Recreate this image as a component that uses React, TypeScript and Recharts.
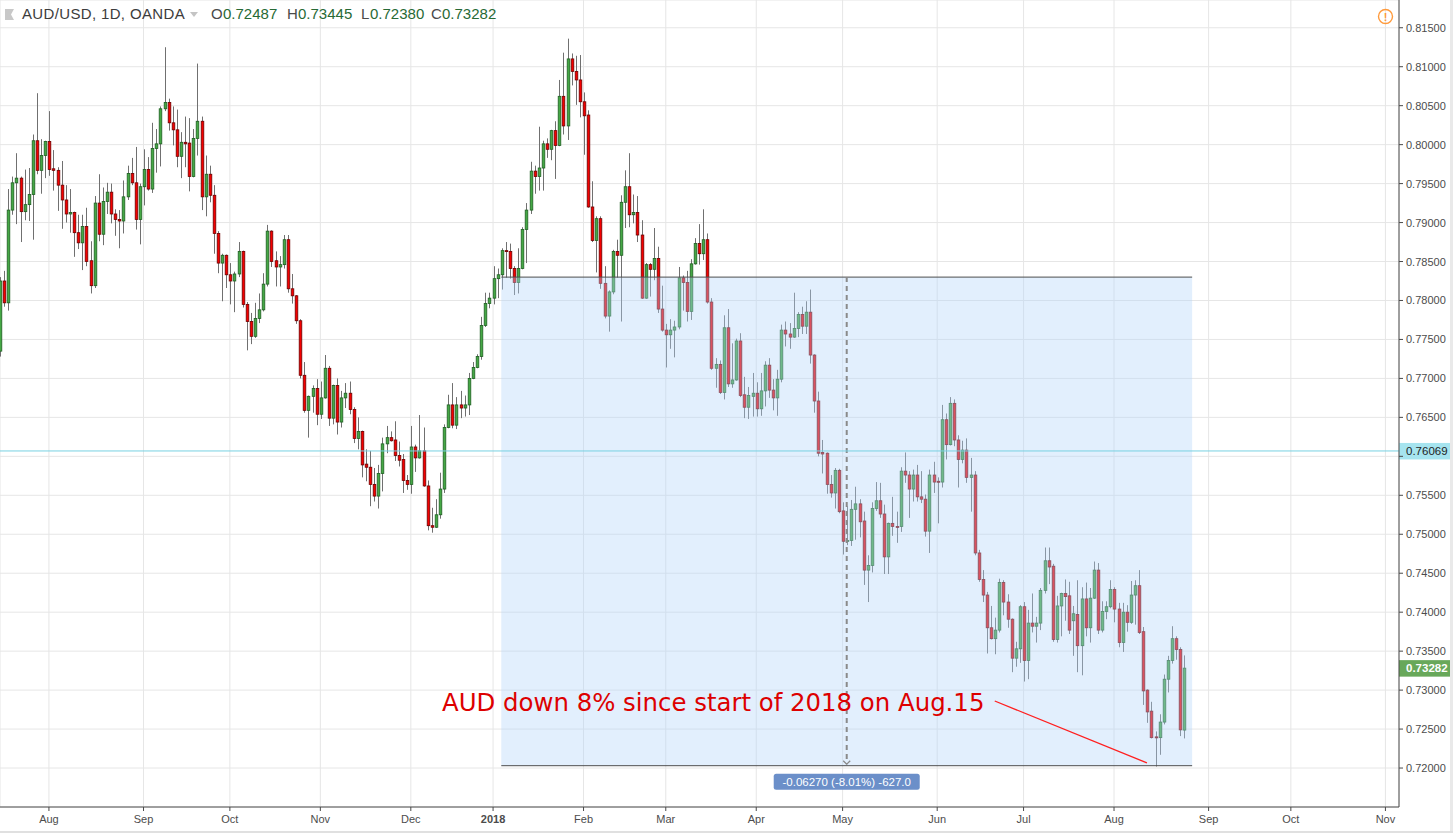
import { ComposedChart, Bar, XAxis, YAxis, CartesianGrid, ReferenceArea, ReferenceLine, ReferenceDot } from "recharts";

// [open, high, low, close] per trading day
type Ohlc = [number, number, number, number];

const jul2017: Ohlc[] = [
	[0.7735, 0.783, 0.7728, 0.7825], [0.7825, 0.7838, 0.7792, 0.7797], [0.7797, 0.7943, 0.7787, 0.7916],
	[0.7916, 0.7959, 0.791, 0.7951], [0.7951, 0.7989, 0.7898, 0.7957], [0.7957, 0.7959, 0.7875, 0.7914],
	[0.7914, 0.7968, 0.7903, 0.7923], [0.7923, 0.797, 0.7902, 0.7936], [0.7936, 0.8013, 0.7878, 0.8005],
	[0.8005, 0.8066, 0.7962, 0.7967], [0.7967, 0.8007, 0.7937, 0.7986], [0.7986, 0.8005, 0.7957, 0.8004],
];
const aug2017: Ohlc[] = [
	[0.8004, 0.8043, 0.796, 0.7968], [0.7969, 0.7993, 0.7941, 0.7967], [0.7967, 0.7971, 0.7915, 0.7948],
	[0.7948, 0.7979, 0.7892, 0.7929], [0.7929, 0.7948, 0.79, 0.7911], [0.7911, 0.7943, 0.7887, 0.7913],
	[0.7913, 0.7914, 0.7856, 0.7887], [0.7887, 0.791, 0.7866, 0.7874], [0.7874, 0.791, 0.7839, 0.7895],
	[0.7895, 0.7919, 0.7844, 0.785], [0.7851, 0.7876, 0.7809, 0.7819], [0.7819, 0.7934, 0.7816, 0.7925],
	[0.7925, 0.7962, 0.7876, 0.7885], [0.7885, 0.7945, 0.7871, 0.7927], [0.7927, 0.7951, 0.7911, 0.7939],
	[0.7939, 0.795, 0.7899, 0.7911], [0.7911, 0.7917, 0.7883, 0.7904], [0.7904, 0.7916, 0.7867, 0.7902],
	[0.7902, 0.7954, 0.7886, 0.7933], [0.7933, 0.7973, 0.7929, 0.7963], [0.7963, 0.7983, 0.7948, 0.7951],
	[0.7951, 0.7997, 0.7891, 0.7904], [0.7904, 0.795, 0.7872, 0.7946],
];
const sep2017: Ohlc[] = [
	[0.7946, 0.7994, 0.7922, 0.7968], [0.7968, 0.7984, 0.7941, 0.7943], [0.7943, 0.8028, 0.7938, 0.7995],
	[0.7995, 0.802, 0.7964, 0.8001], [0.8001, 0.8049, 0.7972, 0.8046], [0.8046, 0.8125, 0.8043, 0.8054],
	[0.8054, 0.8059, 0.8018, 0.8028], [0.8028, 0.8049, 0.7999, 0.8019], [0.8019, 0.8045, 0.7971, 0.7985],
	[0.7985, 0.8016, 0.7957, 0.8003], [0.8003, 0.8036, 0.7971, 0.8001], [0.8002, 0.8034, 0.794, 0.7959],
	[0.7959, 0.802, 0.7958, 0.8008], [0.8008, 0.8104, 0.7986, 0.803], [0.803, 0.8036, 0.7916, 0.7933],
	[0.7933, 0.7986, 0.7908, 0.7962], [0.7962, 0.7973, 0.7926, 0.7935], [0.7935, 0.7948, 0.786, 0.7886],
	[0.7886, 0.7889, 0.7835, 0.7848], [0.7848, 0.786, 0.7799, 0.7858], [0.7858, 0.7859, 0.7816, 0.7833],
];
const oct2017: Ohlc[] = [
	[0.7833, 0.7848, 0.7795, 0.7825], [0.7825, 0.7837, 0.7785, 0.7834], [0.7834, 0.7875, 0.783, 0.7863],
	[0.7863, 0.7864, 0.7791, 0.7795], [0.7795, 0.7798, 0.7736, 0.7773], [0.7773, 0.7784, 0.7744, 0.7754],
	[0.7754, 0.7797, 0.7752, 0.7777], [0.7777, 0.7809, 0.7771, 0.7788], [0.7788, 0.7835, 0.7786, 0.7821],
	[0.7821, 0.7897, 0.7818, 0.7889], [0.7889, 0.789, 0.7843, 0.785], [0.7851, 0.7863, 0.7818, 0.7843],
	[0.7843, 0.7857, 0.7818, 0.7846], [0.7846, 0.7884, 0.7841, 0.7878], [0.7878, 0.7884, 0.781, 0.7815],
	[0.7815, 0.7834, 0.7796, 0.7806], [0.7806, 0.7807, 0.777, 0.7774], [0.7774, 0.7776, 0.77, 0.7704],
	[0.7704, 0.7721, 0.7656, 0.7659], [0.7659, 0.7678, 0.7624, 0.7677], [0.7677, 0.7691, 0.7656, 0.7687],
	[0.7687, 0.7699, 0.764, 0.7654],
];
const nov2017: Ohlc[] = [
	[0.7654, 0.7696, 0.7648, 0.7675], [0.7675, 0.773, 0.7674, 0.7713], [0.7713, 0.7716, 0.7639, 0.7649],
	[0.7649, 0.7692, 0.7641, 0.7691], [0.7691, 0.77, 0.7628, 0.7644], [0.7644, 0.7684, 0.7637, 0.7675],
	[0.7675, 0.7694, 0.7662, 0.7681], [0.7681, 0.7696, 0.7654, 0.766], [0.766, 0.7663, 0.7617, 0.7623],
	[0.7623, 0.765, 0.7609, 0.7632], [0.7632, 0.7633, 0.7573, 0.7589], [0.759, 0.7609, 0.7568, 0.7586],
	[0.7586, 0.7607, 0.7536, 0.7564], [0.7564, 0.7585, 0.7542, 0.7549], [0.7549, 0.7589, 0.7533, 0.7578],
	[0.7578, 0.7624, 0.7555, 0.7616], [0.7616, 0.7639, 0.7604, 0.7624], [0.7624, 0.7632, 0.7619, 0.762],
	[0.7621, 0.7645, 0.7594, 0.7601], [0.7601, 0.7619, 0.7587, 0.7595], [0.7596, 0.7603, 0.7553, 0.7569],
	[0.7569, 0.7576, 0.7557, 0.7564],
];
const dec2017: Ohlc[] = [
	[0.7564, 0.7639, 0.7552, 0.7612], [0.7612, 0.7615, 0.758, 0.7598], [0.7598, 0.7653, 0.7597, 0.7607],
	[0.7607, 0.7637, 0.7561, 0.7562], [0.7562, 0.7569, 0.7505, 0.7511], [0.7511, 0.7534, 0.7502, 0.7509],
	[0.7509, 0.7545, 0.7508, 0.7525], [0.7525, 0.7579, 0.752, 0.7558], [0.7558, 0.7641, 0.7553, 0.7637],
	[0.7637, 0.7679, 0.7636, 0.7666], [0.7666, 0.7694, 0.7636, 0.764], [0.764, 0.7676, 0.7635, 0.7666],
	[0.7666, 0.7684, 0.7649, 0.7662], [0.7662, 0.7678, 0.7651, 0.7666], [0.7666, 0.7707, 0.7653, 0.77],
	[0.77, 0.7721, 0.7699, 0.7714], [0.7714, 0.7731, 0.7713, 0.7728], [0.7728, 0.7779, 0.7724, 0.7768],
	[0.7768, 0.781, 0.7766, 0.7796], [0.7796, 0.781, 0.779, 0.7803],
];
const jan2018: Ohlc[] = [
	[0.7803, 0.7844, 0.7795, 0.7828], [0.7828, 0.7841, 0.7803, 0.7833], [0.7833, 0.7867, 0.7814, 0.7864],
	[0.7864, 0.7875, 0.7829, 0.7863], [0.7863, 0.7873, 0.7828, 0.7841], [0.7841, 0.7844, 0.7807, 0.7823],
	[0.7823, 0.7867, 0.7809, 0.7841], [0.7841, 0.7894, 0.784, 0.7891], [0.7891, 0.7925, 0.7848, 0.7916],
	[0.7916, 0.7978, 0.7911, 0.7966], [0.7966, 0.7973, 0.7937, 0.7959], [0.7959, 0.8023, 0.7941, 0.797],
	[0.797, 0.8005, 0.7941, 0.8001], [0.8001, 0.8008, 0.7983, 0.7994], [0.7994, 0.8019, 0.798, 0.8018],
	[0.8018, 0.803, 0.7956, 0.7999], [0.7999, 0.8083, 0.7998, 0.8062], [0.8062, 0.8118, 0.8013, 0.8024],
	[0.8024, 0.8136, 0.8006, 0.811], [0.811, 0.8117, 0.8076, 0.8094], [0.8094, 0.8114, 0.8051, 0.8083],
	[0.8083, 0.8115, 0.8035, 0.8055],
];
const feb2018: Ohlc[] = [
	[0.8055, 0.8067, 0.7987, 0.8037], [0.8038, 0.8044, 0.7919, 0.792], [0.792, 0.7953, 0.7875, 0.7877],
	[0.7877, 0.7908, 0.7836, 0.7905], [0.7905, 0.7908, 0.7815, 0.7822], [0.7822, 0.7844, 0.7777, 0.778],
	[0.778, 0.7813, 0.776, 0.7811], [0.7811, 0.7865, 0.7808, 0.7863], [0.7863, 0.7878, 0.7829, 0.7858],
	[0.7858, 0.7935, 0.7773, 0.7926], [0.7926, 0.7967, 0.7893, 0.7946], [0.7946, 0.7989, 0.7894, 0.791],
	[0.791, 0.7936, 0.7899, 0.7913], [0.7913, 0.7934, 0.7875, 0.7884], [0.7884, 0.7903, 0.7802, 0.7803],
	[0.7803, 0.7848, 0.7802, 0.7846], [0.7846, 0.7848, 0.7805, 0.784], [0.784, 0.7893, 0.7826, 0.7854],
	[0.7854, 0.7869, 0.7784, 0.7789], [0.7789, 0.7819, 0.776, 0.7762],
];
const mar2018: Ohlc[] = [
	[0.7762, 0.777, 0.7714, 0.7756], [0.7756, 0.7776, 0.7738, 0.7762], [0.7762, 0.7774, 0.7727, 0.7766],
	[0.7766, 0.7843, 0.7763, 0.7829], [0.7829, 0.7832, 0.7787, 0.7823], [0.7823, 0.7838, 0.7773, 0.7786],
	[0.7786, 0.7853, 0.7775, 0.7847], [0.7847, 0.788, 0.7846, 0.7873], [0.7873, 0.7898, 0.7846, 0.786],
	[0.786, 0.7917, 0.7852, 0.7878], [0.7878, 0.7886, 0.7796, 0.7798], [0.7798, 0.7803, 0.7711, 0.7713],
	[0.7713, 0.7726, 0.7688, 0.7718], [0.7718, 0.7723, 0.768, 0.7682], [0.7682, 0.7781, 0.7673, 0.7765],
	[0.7765, 0.7789, 0.7689, 0.7693], [0.7693, 0.7745, 0.7688, 0.7698], [0.7698, 0.7751, 0.7697, 0.7748],
	[0.7748, 0.7758, 0.7676, 0.7678], [0.7679, 0.7702, 0.7649, 0.7663], [0.7663, 0.7689, 0.7648, 0.7678],
	[0.7677, 0.7707, 0.7651, 0.7681],
];
const apr2018: Ohlc[] = [
	[0.7681, 0.7695, 0.7651, 0.7661], [0.7661, 0.7707, 0.7652, 0.7684], [0.7684, 0.7722, 0.7664, 0.7717],
	[0.7717, 0.7726, 0.7675, 0.7685], [0.7685, 0.7699, 0.7659, 0.7675], [0.7675, 0.7711, 0.7652, 0.7699],
	[0.7699, 0.7769, 0.7695, 0.7762], [0.7762, 0.7773, 0.7741, 0.7757], [0.7757, 0.7771, 0.7738, 0.7753],
	[0.7753, 0.781, 0.7752, 0.7764], [0.7764, 0.7785, 0.7753, 0.7782], [0.7782, 0.7792, 0.7757, 0.7767],
	[0.7767, 0.7799, 0.7757, 0.7785], [0.7785, 0.7814, 0.7719, 0.773], [0.773, 0.7731, 0.7656, 0.7671],
	[0.7671, 0.7683, 0.76, 0.7604], [0.7605, 0.7621, 0.7578, 0.7603], [0.7604, 0.7605, 0.7552, 0.7564],
	[0.7564, 0.7576, 0.7547, 0.7553], [0.7553, 0.7585, 0.7533, 0.7582], [0.7582, 0.7584, 0.7527, 0.7529],
];
const may2018: Ohlc[] = [
	[0.753, 0.7541, 0.7474, 0.7491], [0.7491, 0.7536, 0.7486, 0.7492], [0.7492, 0.7544, 0.7485, 0.7532],
	[0.7532, 0.7561, 0.7493, 0.7539], [0.7539, 0.7545, 0.7496, 0.7516], [0.7517, 0.7529, 0.7435, 0.7454],
	[0.7454, 0.7473, 0.7413, 0.746], [0.746, 0.7541, 0.7451, 0.7533], [0.7533, 0.7567, 0.753, 0.7543],
	[0.7543, 0.7566, 0.7521, 0.7526], [0.7526, 0.7538, 0.7449, 0.7471], [0.7471, 0.7515, 0.7449, 0.7514],
	[0.7514, 0.7548, 0.7498, 0.751], [0.751, 0.7529, 0.7489, 0.7509], [0.751, 0.7586, 0.7503, 0.7581],
	[0.7581, 0.7605, 0.7566, 0.7576], [0.7576, 0.7581, 0.7521, 0.7558], [0.7558, 0.7583, 0.7542, 0.7576],
	[0.7576, 0.7589, 0.7542, 0.7548], [0.7548, 0.7581, 0.754, 0.7545], [0.7545, 0.7551, 0.7497, 0.7504],
	[0.7504, 0.7583, 0.7476, 0.7576], [0.7576, 0.7593, 0.7553, 0.7567],
];
const jun2018: Ohlc[] = [
	[0.7568, 0.7573, 0.7514, 0.7567], [0.7567, 0.7666, 0.756, 0.7647], [0.7647, 0.7655, 0.7596, 0.7615],
	[0.7615, 0.7676, 0.7614, 0.7668], [0.7668, 0.7673, 0.7613, 0.7621], [0.7621, 0.7627, 0.756, 0.7596],
	[0.7596, 0.762, 0.7591, 0.7608], [0.7608, 0.7623, 0.7566, 0.7573], [0.7573, 0.7598, 0.7529, 0.7576],
	[0.7576, 0.7581, 0.7473, 0.7476], [0.7476, 0.748, 0.7439, 0.7442], [0.7442, 0.7454, 0.7413, 0.7422],
	[0.7422, 0.7426, 0.7347, 0.738], [0.738, 0.7408, 0.7365, 0.7366], [0.7366, 0.7393, 0.7346, 0.7377],
	[0.7377, 0.7443, 0.7374, 0.7438], [0.7438, 0.7441, 0.7396, 0.7413], [0.7413, 0.7423, 0.738, 0.7391],
	[0.7391, 0.7392, 0.7323, 0.7341], [0.7341, 0.7362, 0.733, 0.7353], [0.7353, 0.7409, 0.7335, 0.7407],
];
const jul2018: Ohlc[] = [
	[0.7407, 0.7413, 0.7311, 0.7338], [0.7338, 0.7403, 0.7314, 0.7386], [0.7386, 0.7424, 0.7374, 0.7382],
	[0.7382, 0.7394, 0.7361, 0.7386], [0.7386, 0.7431, 0.7377, 0.7428], [0.7428, 0.7483, 0.7424, 0.7466],
	[0.7466, 0.7483, 0.7436, 0.7458], [0.7459, 0.7462, 0.7362, 0.7365], [0.7365, 0.7421, 0.7361, 0.7408],
	[0.7408, 0.7425, 0.7369, 0.7424], [0.7424, 0.7442, 0.7389, 0.742], [0.7421, 0.7439, 0.7372, 0.7377],
	[0.7389, 0.7408, 0.7344, 0.7398], [0.7397, 0.7441, 0.7323, 0.7357], [0.7357, 0.7432, 0.7319, 0.7417],
	[0.7417, 0.7438, 0.7369, 0.738], [0.738, 0.7431, 0.7361, 0.7418], [0.7418, 0.7465, 0.7417, 0.7454],
	[0.7454, 0.7463, 0.7372, 0.7377], [0.7377, 0.7414, 0.7374, 0.7401], [0.7401, 0.7414, 0.7391, 0.7407],
	[0.7407, 0.7441, 0.7405, 0.7429],
];
const aug2018: Ohlc[] = [
	[0.7429, 0.7432, 0.7387, 0.7404], [0.7404, 0.7412, 0.7355, 0.7361], [0.7361, 0.7412, 0.7349, 0.74],
	[0.74, 0.7409, 0.7375, 0.7387], [0.7387, 0.744, 0.7385, 0.7422], [0.7422, 0.7441, 0.7384, 0.7434],
	[0.7434, 0.7454, 0.7372, 0.7374], [0.7375, 0.7381, 0.7281, 0.7299], [0.73, 0.7301, 0.7258, 0.7272],
	[0.7273, 0.7285, 0.7238, 0.7239], [0.724, 0.7247, 0.7202, 0.7239], [0.7239, 0.7269, 0.7217, 0.7259],
	[0.7259, 0.732, 0.7256, 0.7314], [0.7314, 0.7344, 0.7297, 0.7338], [0.7338, 0.7382, 0.7334, 0.7366],
	[0.7366, 0.7369, 0.7339, 0.7352], [0.7352, 0.7355, 0.7241, 0.7249], [0.72487, 0.73445, 0.7238, 0.73282],
];

const firstDay = "2017-07-14";
const lastAxisDay = "2018-11-30";
const holidays = ["2017-12-25", "2018-01-01"];
const monthNames = ["Jan", "Feb", "Mar", "Apr", "May", "Jun", "Jul", "Aug", "Sep", "Oct", "Nov", "Dec"];
const priceTicks = [
	0.72, 0.725, 0.73, 0.735, 0.74, 0.745, 0.75, 0.755, 0.76, 0.765,
	0.77, 0.775, 0.78, 0.785, 0.79, 0.795, 0.8, 0.805, 0.81, 0.815,
];

// price range tool and markers
const rangeStart = "2018-01-04";
const rangeEnd = "2018-08-28";
const rangeTop = 0.783;
const rangeBottom = 0.7203;
const rangeLabel = "-0.06270 (-8.01%) -627.0";
const hLinePrice = 0.76069;
const lastPrice = 0.73282;
const noteText = "AUD down 8% since start of 2018 on Aug.15";
const noteAt = { day: "2018-06-18", price: 0.72732 };
const arrowFrom = { day: "2018-06-21", price: 0.7286 };
const arrowTo = { day: "2018-08-13", price: 0.72065 };

function buildTradingDays(): string[] {
	const out: string[] = [];
	const d = new Date(firstDay + "T00:00:00Z");
	const end = new Date(lastAxisDay + "T00:00:00Z");
	while (d <= end) {
		const wd = d.getUTCDay();
		const iso = d.toISOString().slice(0, 10);
		if (wd !== 0 && wd !== 6 && !holidays.includes(iso)) out.push(iso);
		d.setUTCDate(d.getUTCDate() + 1);
	}
	return out;
}

const days = buildTradingDays();
const dayIndex = (iso: string) => days.indexOf(iso);

const monthTicks: number[] = [];
const tickText: Record<number, string> = {};
days.forEach((iso, i) => {
	if (i === 0 || iso.slice(0, 7) === days[i - 1].slice(0, 7)) return;
	const m = Number(iso.slice(5, 7));
	monthTicks.push(i);
	tickText[i] = m === 1 ? iso.slice(0, 4) : monthNames[m - 1];
});

const candles = [
	...jul2017, ...aug2017, ...sep2017, ...oct2017, ...nov2017, ...dec2017, ...jan2018,
	...feb2018, ...mar2018, ...apr2018, ...may2018, ...jun2018, ...jul2018, ...aug2018,
].map(([open, high, low, close], i) => ({ i, date: days[i], open, high, low, close }));

const FONT = "'Liberation Sans', Arial, sans-serif";
const W = 1453;
const H = 833;

function Candle(props: any) {
	const { x, y, width, height, payload } = props;
	if (!payload || x == null) return null;
	const { open, high, low, close } = payload;
	const top = Math.min(y, y + height);
	const h = Math.abs(height);
	const span = high - low || 1e-9;
	const py = (v: number) => top + ((high - v) / span) * h;
	const c = Math.round(x + width / 2);
	const up = close >= open;
	const bTop = py(Math.max(open, close));
	const bH = Math.max(py(Math.min(open, close)) - bTop, 1);
	return (
		<g>
			<line x1={c + 0.5} x2={c + 0.5} y1={top} y2={top + h} stroke="#707070" strokeWidth={1} />
			<rect
				x={c - 0.8}
				y={bTop}
				width={2.6}
				height={bH}
				fill={up ? "#45a845" : "#f40000"}
				stroke={up ? "#1f5f22" : "#6e0000"}
				strokeWidth={0.8}
			/>
		</g>
	);
}

function MonthTick(props: any) {
	const { x, y, payload } = props;
	const label = tickText[payload.value] ?? "";
	const isYear = /^\d{4}$/.test(label);
	return (
		<text x={x} y={y} dy={10} textAnchor="middle" fill="#4c4c4c" fontSize={11} fontFamily={FONT} fontWeight={isYear ? 700 : 400}>
			{label}
		</text>
	);
}

// the price badges cover the scale labels they sit on
const badgePrices = [hLinePrice, lastPrice];

function PriceTick(props: any) {
	const { x, y, payload } = props;
	const v = payload.value as number;
	if (badgePrices.some((p) => Math.abs(p - v) < 0.0012)) return null;
	return (
		<text x={x} y={y} dy={4} textAnchor="start" fill="#4c4c4c" fontSize={11} fontFamily={FONT}>
			{v.toFixed(5)}
		</text>
	);
}

function priceBadge(text: string, bg: string, fg: string, bold: boolean) {
	return (props: any) => {
		const vb = props.viewBox || {};
		const x = (vb.x ?? 0) + (vb.width ?? 0);
		const y = vb.y ?? 0;
		return (
			<g>
				<rect x={x} y={y - 8} width={51} height={16.5} fill={bg} />
				<text x={x + 7} y={y + 4} fill={fg} fontSize={11.5} fontFamily={FONT} fontWeight={bold ? 700 : 400}>
					{text}
				</text>
			</g>
		);
	};
}

function RangeFoot(props: any) {
	const { cx, cy } = props;
	if (cx == null) return null;
	return (
		<g>
			<path d={`M${cx - 3.5},${cy - 5} L${cx},${cy - 1.5} L${cx + 3.5},${cy - 5}`} fill="none" stroke="#8a8a8a" strokeWidth={1.3} />
			<rect x={cx - 73} y={cy + 8} width={146} height={16} rx={2.5} fill="#6b8fc9" />
			<text x={cx} y={cy + 20} textAnchor="middle" fill="#ffffff" fontSize={11.5} fontFamily={FONT}>
				{rangeLabel}
			</text>
		</g>
	);
}

function NoteText(props: any) {
	const { cx, cy } = props;
	if (cx == null) return null;
	return (
		<text x={cx + 2} y={cy} textAnchor="end" fill="#dd0000" fontSize={24.4} fontFamily="'DejaVu Sans', Verdana, sans-serif">
			{noteText}
		</text>
	);
}

function Header() {
	const span = (left: number, text: string, color: string) => (
		<span style={{ position: "absolute", left, top: 0, color, whiteSpace: "pre" }}>{text}</span>
	);
	return (
		<div style={{ position: "absolute", left: 0, top: 5, height: 18, width: 520, fontFamily: FONT, fontSize: 15, lineHeight: "18px" }}>
			<svg style={{ position: "absolute", left: 5, top: 4 }} width={9} height={11}>
				<path d="M0,0 L9,0 L6,5.5 L9,11 L0,11 Z" fill="#c8c8c8" />
			</svg>
			<span style={{ position: "absolute", left: 22, top: 0, color: "#3c3c3c", whiteSpace: "pre", letterSpacing: 0.35 }}>
				AUD/USD, 1D, OANDA
			</span>
			<svg style={{ position: "absolute", left: 190, top: 7 }} width={8} height={5}>
				<path d="M0,0 L8,0 L4,5 Z" fill="#c4c4c4" />
			</svg>
			{span(211, "O", "#4a4a4a")}
			{span(223, "0.72487", "#276a35")}
			{span(287, "H", "#4a4a4a")}
			{span(298, "0.73445", "#276a35")}
			{span(361, "L", "#4a4a4a")}
			{span(370, "0.72380", "#276a35")}
			{span(431, "C", "#4a4a4a")}
			{span(442, "0.73282", "#276a35")}
		</div>
	);
}

export default function App() {
	const xDomain: [number, number] = [0.1, 340.3];
	const mid = (dayIndex(rangeStart) + dayIndex(rangeEnd)) / 2;
	return (
		<div style={{ position: "absolute", left: 0, top: 0, width: W, height: H, background: "#ffffff", overflow: "hidden" }}>
			<ComposedChart width={W} height={H} data={candles} margin={{ top: 0, right: 0, bottom: 0, left: 0 }}>
				<CartesianGrid stroke="#e6e6e6" />
				<XAxis
					dataKey="i"
					type="number"
					domain={xDomain}
					allowDataOverflow
					ticks={monthTicks}
					interval={0}
					height={26}
					tickSize={4}
					tickMargin={2}
					tick={<MonthTick />}
					stroke="#4a4a4a"
					tickLine={{ stroke: "#4a4a4a" }}
				/>
				<YAxis
					orientation="right"
					type="number"
					domain={[0.715, 0.81856]}
					allowDataOverflow
					ticks={priceTicks}
					interval={0}
					width={54}
					tickSize={4}
					tickMargin={3}
					tick={<PriceTick />}
					stroke="#4a4a4a"
					tickLine={{ stroke: "#4a4a4a" }}
				/>
				<Bar dataKey={(d: any) => [d.low, d.high]} shape={Candle} barSize={3} isAnimationActive={false} />
				<ReferenceArea
					x1={dayIndex(rangeStart)}
					x2={dayIndex(rangeEnd)}
					y1={rangeBottom}
					y2={rangeTop}
					fill="#b4d4fa"
					fillOpacity={0.38}
					stroke="none"
					zIndex={350}
				/>
				<ReferenceLine
					segment={[{ x: dayIndex(rangeStart), y: rangeTop }, { x: dayIndex(rangeEnd), y: rangeTop }]}
					stroke="#4d4d4d"
					zIndex={360}
				/>
				<ReferenceLine
					segment={[{ x: dayIndex(rangeStart), y: rangeBottom }, { x: dayIndex(rangeEnd), y: rangeBottom }]}
					stroke="#4d4d4d"
					zIndex={360}
				/>
				<ReferenceLine
					segment={[{ x: mid, y: rangeTop }, { x: mid, y: rangeBottom + 0.0002 }]}
					stroke="#8a8a8a"
					strokeWidth={2}
					strokeDasharray="5 4"
					zIndex={360}
				/>
				<ReferenceDot x={mid} y={rangeBottom} shape={RangeFoot} zIndex={370} />
				<ReferenceLine y={hLinePrice} stroke="#78d2e2" zIndex={380} label={priceBadge(hLinePrice.toFixed(5), "#a6e4ef", "#1f1f1f", false)} />
				<ReferenceLine y={lastPrice} stroke="none" strokeOpacity={0} zIndex={380} label={priceBadge(lastPrice.toFixed(5), "#68a85a", "#ffffff", true)} />
				<ReferenceLine
					segment={[{ x: dayIndex(arrowFrom.day), y: arrowFrom.price }, { x: dayIndex(arrowTo.day), y: arrowTo.price }]}
					stroke="#ff1f1f"
					strokeWidth={1.3}
					zIndex={390}
				/>
				<ReferenceDot x={dayIndex(noteAt.day)} y={noteAt.price} shape={NoteText} zIndex={390} />
			</ComposedChart>
			<Header />
			<svg style={{ position: "absolute", left: 1377, top: 8 }} width={17} height={17}>
				<circle cx={8.5} cy={8.5} r={7} fill="none" stroke="#ff9a3c" strokeWidth={1.4} />
				<text x={8.5} y={12.6} textAnchor="middle" fill="#ff9a3c" fontSize={11} fontWeight={700} fontFamily={FONT}>!</text>
			</svg>
			<div style={{ position: "absolute", left: 1450, top: 0, width: 3, height: H, background: "#e9e9e9" }} />
			<div style={{ position: "absolute", left: 0, top: 831, width: W, height: 2, background: "#e0e0e0" }} />
		</div>
	);
}
